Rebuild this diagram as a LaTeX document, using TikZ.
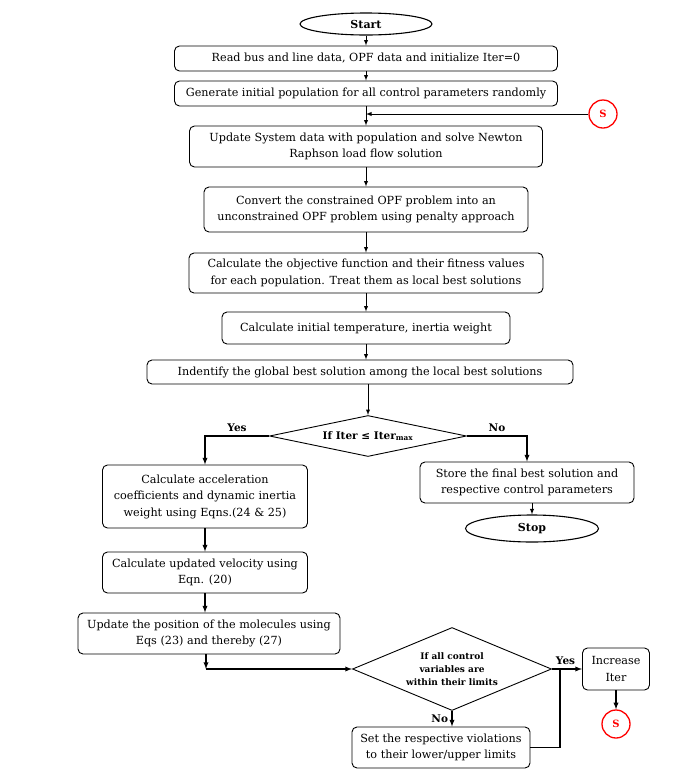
\documentclass[tikz,border=0pt]{standalone}
\usepackage{fontspec}
\setmainfont{DejaVu Serif}
\usetikzlibrary{shapes.geometric}

\tikzset{
  box/.style={draw, line width=0.9pt, rounded corners=5pt, align=center, inner sep=2pt, font=\fontsize{11.2}{16.5}\selectfont},
  term/.style={draw, ellipse, line width=1.1pt, inner sep=0pt, font=\fontsize{11}{12}\selectfont\bfseries},
  cond/.style={draw, diamond, line width=0.9pt, inner sep=0pt, align=center},
  conn/.style={draw=red, circle, line width=1.3pt, text=red, inner sep=0pt, minimum size=28pt, font=\fontsize{10}{11}\selectfont\bfseries},
  arr/.style={-latex, line width=0.9pt},
  lbl/.style={font=\fontsize{10.5}{11}\selectfont\bfseries}
}

\begin{document}
\begin{tikzpicture}[x=1pt, y=-1pt]
                    \useasboundingbox (0,0) rectangle (699,780);
                    \node[term, minimum width=132pt, minimum height=22pt] (start) at (366,24) {Start};
                    \node[box, minimum width=383pt, minimum height=25pt] (read) at (366,58.5) {Read bus and line data, OPF data and initialize Iter=0};
                    \node[box, minimum width=383pt, minimum height=25pt] (gen) at (366,93.5) {Generate initial population for all control parameters randomly};
                    \node[conn] (s1) at (603,114) {S};
                    \node[box, minimum width=353pt, minimum height=41pt] (upd) at (366,146.5) {Update System data with population and solve Newton\\Raphson load flow solution};
                    \node[box, minimum width=324pt, minimum height=45pt] (conv) at (366,209.5) {Convert the constrained OPF problem into an\\unconstrained OPF problem using penalty approach};
                    \node[box, minimum width=354pt, minimum height=40pt] (obj) at (366,273) {Calculate the objective function and their fitness values\\for each population. Treat them as local best solutions};
                    \node[box, minimum width=288pt, minimum height=32pt] (temp) at (366,328) {Calculate initial temperature, inertia weight};
                    \node[box, minimum width=426pt, minimum height=24pt] (glob) at (360,372) {Indentify the global best solution among the local best solutions};
                    \node[cond, aspect=4.8, minimum width=197pt, minimum height=41pt, font=\fontsize{10.5}{12}\selectfont\bfseries] (iter) at (368,436) {If Iter ≤ Iter\textsubscript{max}};
                    \node[box, minimum width=205pt, minimum height=63pt] (acc) at (205,496.5) {Calculate acceleration\\coefficients and dynamic inertia\\weight using Eqns.(24 \& 25)};
                    \node[box, minimum width=214pt, minimum height=41pt] (store) at (527,482.5) {Store the final best solution and\\respective control parameters};
                    \node[term, minimum width=133pt, minimum height=27pt] (stop) at (532,528.5) {Stop};
                    \node[box, minimum width=205pt, minimum height=41pt] (vel) at (205,572.5) {Calculate updated velocity using\\Eqn. (20)};
                    \node[box, minimum width=262pt, minimum height=41pt] (pos) at (209,633.5) {Update the position of the molecules using\\Eqs (23) and thereby (27)};
                    \node[cond, aspect=2.4, minimum width=199pt, minimum height=83pt, font=\fontsize{9}{13}\selectfont\bfseries] (lim) at (452,669) {If all control\\variables are\\within their limits};
                    \node[box, minimum width=67pt, minimum height=42pt] (inc) at (616,669) {Increase\\Iter};
                    \node[conn] (s2) at (616,724) {S};
                    \node[box, minimum width=178pt, minimum height=41pt] (set) at (441,747.5) {Set the respective violations\\to their lower/upper limits};
                    \coordinate (bend) at (206,669);
                    \coordinate (join) at (560,669);
                    % main column
                    \draw[arr] (start) -- (read);
                    \draw[arr] (read) -- (gen);
                    \draw[arr] (gen) -- (upd);
                    \draw[arr] (s1) -- (s1 -| gen.south);
                    \draw[arr] (upd) -- (conv);
                    \draw[arr] (conv) -- (obj);
                    \draw[arr] (obj) -- (temp);
                    \draw[arr] (temp.south) -- (temp.south |- glob.north);
                    \draw[arr] (glob.south -| iter.north) -- (iter.north);
                    % branches
                    \draw[arr, line width=1.3pt] (iter.west) -| (acc.north) node[lbl, pos=0.25, above] {Yes};
                    \draw[arr, line width=1.3pt] (iter.east) -| (store.north) node[lbl, pos=0.25, above] {No};
                    \draw[arr] (stop.north |- store.south) -- (stop.north);
                    \draw[arr, line width=1.3pt] (acc) -- (vel);
                    \draw[arr, line width=1.3pt] (vel.south) -- (vel.south |- pos.north);
                    \draw[arr, line width=1.3pt] (pos.south -| bend) -- (bend);
                    \draw[arr, line width=1.3pt] (bend) -- (lim.west);
                    \draw[arr, line width=1.3pt] (lim.east) -- (inc.west) node[lbl, pos=0.45, above] {Yes};
                    \draw[arr, line width=1.3pt] (lim.south) -- (lim.south |- set.north) node[lbl, pos=0.5, left] {No};
                    \draw[line width=1.3pt] (set.east) -| (join);
                    \draw[arr, line width=1.3pt] (inc) -- (s2);
                \end{tikzpicture}
\end{document}
